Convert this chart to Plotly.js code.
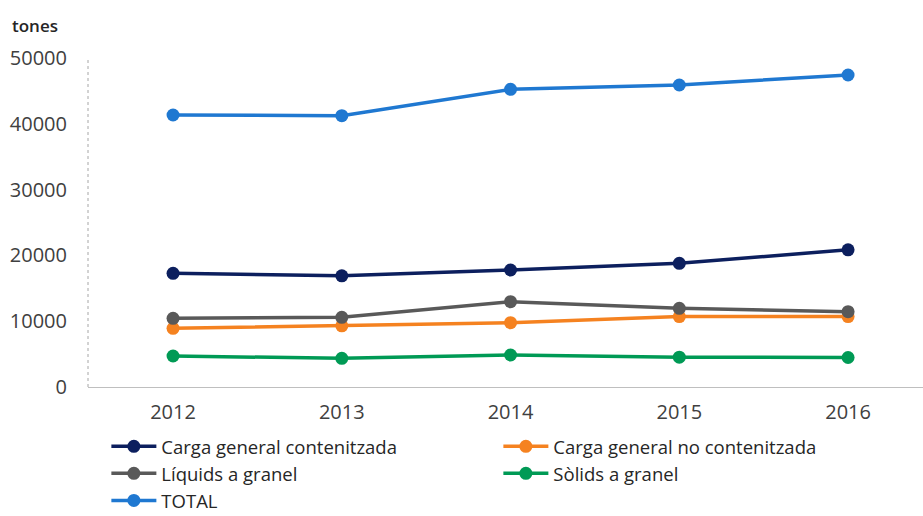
<!DOCTYPE html>
<html>
<head>
<meta charset="utf-8">
<script src="https://cdn.plot.ly/plotly-3.0.1.min.js"></script>
<style>html,body{margin:0;padding:0;background:#fff;}#chart{width:923px;height:516px;}</style>
</head>
<body>
<div id="chart"></div>
<script>
const years = ['2012', '2013', '2014', '2015', '2016'];
const seriesNames = ['Carga general contenitzada', 'Carga general no contenitzada', 'Líquids a granel', 'Sòlids a granel', 'TOTAL'];
const contenitzada = [17280, 16900, 17780, 18800, 20850];
const noContenitzada = [8920, 9300, 9770, 10700, 10700];
const liquids = [10440, 10590, 12960, 11960, 11440];
const solids = [4710, 4360, 4860, 4530, 4480];
const total = [41340, 41230, 45240, 45900, 47420];
const colors = ['#0c1f5e', '#f58220', '#595959', '#009a55', '#1f78d1'];

const values = [contenitzada, noContenitzada, liquids, solids, total];
const traces = values.map((v, i) => ({
  type: 'scatter', mode: 'lines+markers', x: years, y: v, name: seriesNames[i],
  line: {color: colors[i], width: 3.5},
  marker: {color: colors[i], size: 13}
}));
const font = "'Open Sans', 'Noto Sans', sans-serif";
const layout = {
  width: 923, height: 516,
  margin: {l: 88, r: 0, t: 58, b: 129, autoexpand: false},
  paper_bgcolor: '#fff', plot_bgcolor: '#fff',
  font: {family: font, color: '#404040', size: 18},
  showlegend: true,
  legend: {
    orientation: 'h', x: 0.022, xanchor: 'left', y: -0.124, yanchor: 'top',
    entrywidth: 332, entrywidthmode: 'pixels', traceorder: 'normal', itemwidth: 45,
    font: {family: font, size: 18.5, color: '#262626'},
    tracegroupgap: 0
  },
  xaxis: {
    type: 'category', range: [-0.504, 4.444], showgrid: false, zeroline: false,
    showline: true, linecolor: '#bfbfbf', linewidth: 1, ticks: '',
    tickfont: {size: 20, color: '#404040'}, ticklabelstandoff: 7
  },
  yaxis: {
    range: [0, 50000], tickvals: [0, 10000, 20000, 30000, 40000, 50000],
    ticktext: ['0', '10000', '20000', '30000', '40000', '50000'],
    showgrid: false, zeroline: false, showline: false, ticks: '',
    tickfont: {size: 20, color: '#404040'}, ticklabelstandoff: 20
  },
  shapes: [{type: 'line', xref: 'paper', yref: 'paper', x0: 0, x1: 0, y0: 0, y1: 1,
    line: {color: '#a6a6a6', width: 1, dash: 'dot'}}],
  annotations: [{text: 'tones', xref: 'paper', yref: 'paper', x: -78/835, y: 1 + (58-26)/329,
    xanchor: 'left', yanchor: 'middle', showarrow: false,
    font: {family: font, size: 17, color: '#262626', weight: 600}}]
};
Plotly.newPlot('chart', traces, layout, {displayModeBar: false, staticPlot: true});
</script>
</body>
</html>
